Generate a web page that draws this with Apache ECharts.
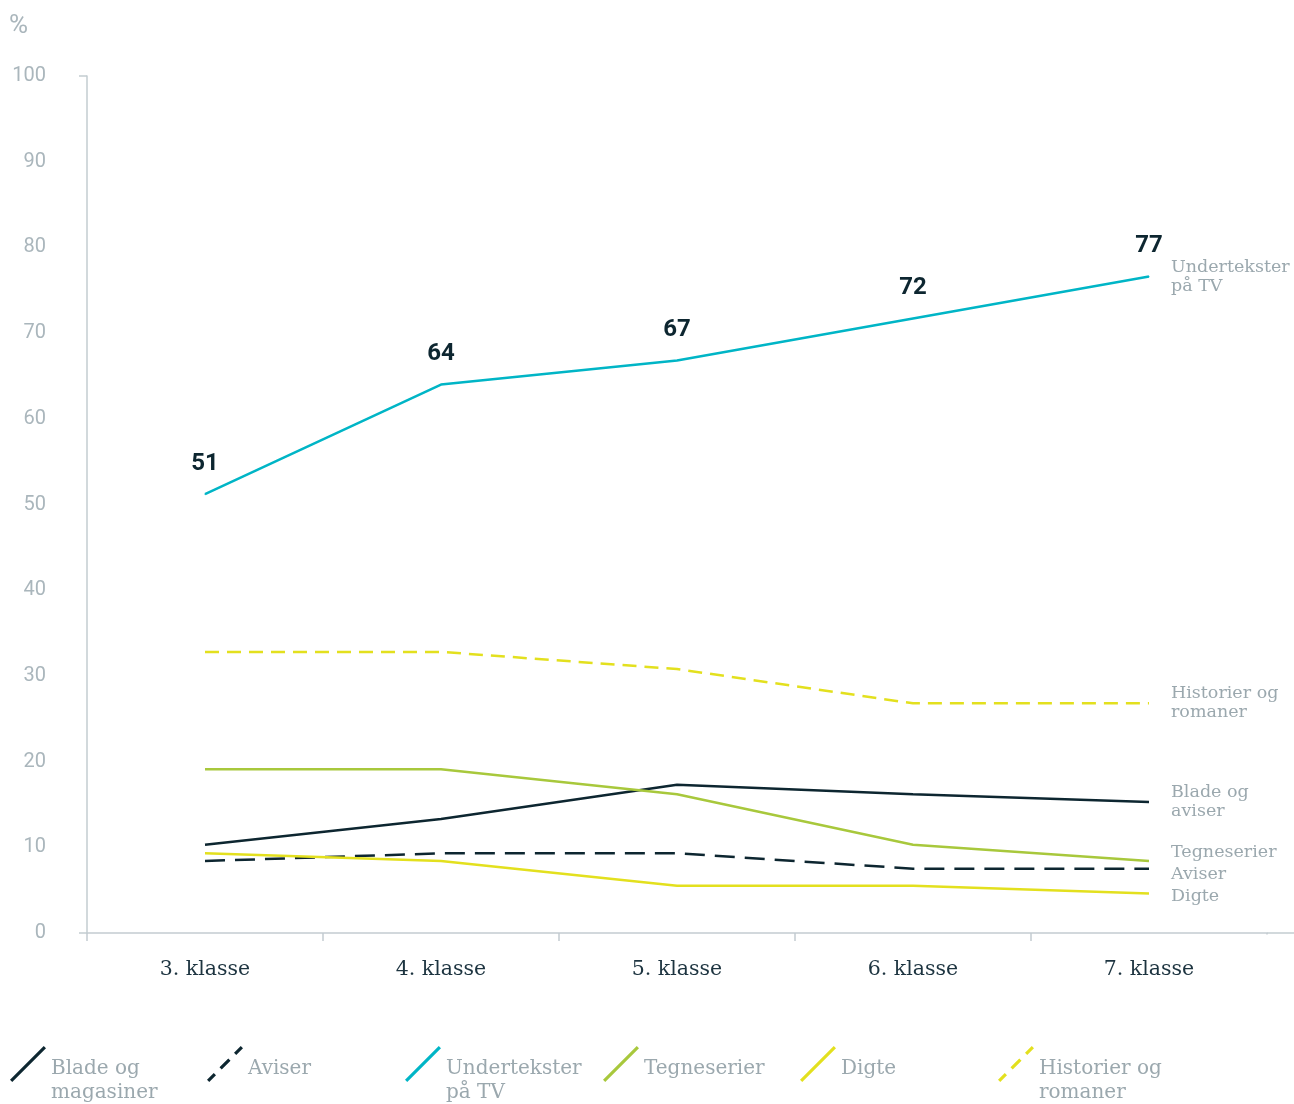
<!DOCTYPE html>
<html>
<head>
<meta charset="utf-8">
<script src="https://cdn.jsdelivr.net/npm/echarts@6/dist/echarts.min.js"></script>
<style>
  html, body { margin: 0; padding: 0; background: #fff; }
  #chart { width: 1294px; height: 1104px; }
</style>
</head>
<body>
<div id="chart"></div>
<script>
// 数据
var categories = ['3. klasse', '4. klasse', '5. klasse', '6. klasse', '7. klasse']
var yTicks = [0, 10, 20, 30, 40, 50, 60, 70, 80, 90, 100]
var bladeData = [10.3, 13.3, 17.3, 16.2, 15.3]
var aviserData = [8.4, 9.3, 9.3, 7.5, 7.5]
var undertekstData = [51.2, 64, 66.8, 71.7, 76.6]
var tegneData = [19.1, 19.1, 16.2, 10.3, 8.4]
var digteData = [9.3, 8.4, 5.5, 5.5, 4.6]
var historierData = [32.8, 32.8, 30.8, 26.8, 26.8]

var dark = '#0d2630'
var cyan = '#00b5c6'
var green = '#a8c83c'
var yellow = '#e3e01e'
var axisGrey = '#c3ccd1'
var textGrey = '#9ba8ae'
var serif = 'DejaVu Serif'

// 图例的斜线图标, boxH 用来把图标放到上方
function diagPath (segs, boxH) {
  var w = 1.2
  var p = ''
  segs.forEach(function (s) {
    var x0 = s[0] * 36, y0 = 36 - s[0] * 36
    var x1 = s[1] * 36, y1 = 36 - s[1] * 36
    p += 'M' + (x0 - w) + ',' + (y0 - w) + ' L' + (x1 - w) + ',' + (y1 - w) +
      ' L' + (x1 + w) + ',' + (y1 + w) + ' L' + (x0 + w) + ',' + (y0 + w) + ' Z '
  })
  p += 'M0,' + boxH + ' L0.05,' + boxH + ' L0.05,' + (boxH - 0.05) + ' Z'
  return 'path://' + p
}
var solidSegs = [[0, 1]]
var dashSegs = [[0, 0.2], [0.37, 0.63], [0.8, 1]]

var seriesDefs = [
  { name: 'Blade og\nmagasiner', end: 'Blade og\naviser', data: bladeData, color: dark, dash: 'solid', segs: solidSegs, offset: [0, 0], left: 10 },
  { name: 'Aviser', end: 'Aviser', data: aviserData, color: dark, dash: [20, 10], segs: dashSegs, offset: [0, 6], left: 207 },
  { name: 'Undertekster\npå TV', end: 'Undertekster\npå TV', data: undertekstData, color: cyan, dash: 'solid', segs: solidSegs, offset: [0, 0], left: 405 },
  { name: 'Tegneserier', end: 'Tegneserier', data: tegneData, color: green, dash: 'solid', segs: solidSegs, offset: [0, -9], left: 603 },
  { name: 'Digte', end: 'Digte', data: digteData, color: yellow, dash: 'solid', segs: solidSegs, offset: [0, 3], left: 800 },
  { name: 'Historier og\nromaner', end: 'Historier og\nromaner', data: historierData, color: yellow, dash: [14, 8], segs: dashSegs, offset: [0, 0], left: 998 }
]

var series = seriesDefs.map(function (d) {
  var s = {
    name: d.name,
    type: 'line',
    data: d.data,
    symbol: 'none',
    color: d.color,
    lineStyle: { color: d.color, width: 2.5, type: d.dash },
    endLabel: {
      show: true,
      distance: 22,
      offset: d.offset,
      formatter: d.end,
      color: textGrey,
      fontFamily: serif,
      fontSize: 17.5,
      lineHeight: 19
    }
  }
  if (d.color === cyan) {
    s.symbol = 'circle'
    s.symbolSize = 1
    s.showSymbol = true
    s.label = {
      show: true,
      position: 'top',
      distance: 18,
      formatter: function (p) { return Math.round(p.value) },
      color: dark,
      fontFamily: 'Roboto',
      fontWeight: 'bold',
      fontSize: 24
    }
  }
  return s
})

// 每个图例单独定位
var legends = seriesDefs.map(function (d) {
  var lines = d.name.split('\n').length
  var boxH = lines === 2 ? 72 : 48
  return {
    data: [{ name: d.name, icon: diagPath(d.segs, boxH) }],
    left: d.left - 5,
    top: 1041,
    itemWidth: 36,
    itemHeight: boxH,
    itemGap: 0,
    selectedMode: false,
    itemStyle: { color: d.color },
    textStyle: {
      color: textGrey,
      fontFamily: serif,
      fontSize: 20,
      lineHeight: 24
    }
  }
})

var myChart = echarts.init(document.getElementById('chart'))
var option = {
  animation: false,
  legend: legends,
  grid: { left: 87, top: 76, right: 27, bottom: 171 },
  xAxis: {
    type: 'category',
    data: categories,
    boundaryGap: true,
    axisLine: { lineStyle: { color: axisGrey, width: 1.5 } },
    axisTick: { show: true, length: 8, lineStyle: { color: axisGrey, width: 1.5 } },
    axisLabel: { color: '#1d3440', fontFamily: serif, fontSize: 20.5, margin: 26 }
  },
  yAxis: {
    type: 'value',
    min: yTicks[0],
    max: yTicks[yTicks.length - 1],
    interval: 10,
    axisLine: { show: true, lineStyle: { color: axisGrey, width: 1.5 } },
    axisTick: { show: false },
    splitLine: { show: false },
    axisLabel: { color: '#aab6bc', fontFamily: 'Roboto', fontSize: 20, margin: 41 }
  },
  // 单位文字 + 轴线延伸
  graphic: [
    { type: 'text', left: 9, top: 13, z: 100, style: { text: '%', fill: '#aab6bc', fontFamily: 'Roboto', fontSize: 26 } },
    { type: 'line', z: 100, shape: { x1: 1267, y1: 933, x2: 1294, y2: 933 }, style: { stroke: axisGrey, lineWidth: 1.5 } },
    { type: 'line', z: 100, shape: { x1: 1267, y1: 934.5, x2: 1267, y2: 943 }, style: { stroke: '#fff', lineWidth: 3 } },
    { type: 'line', z: 100, shape: { x1: 79, y1: 933, x2: 87, y2: 933 }, style: { stroke: axisGrey, lineWidth: 1.5 } },
    { type: 'line', z: 100, shape: { x1: 79, y1: 76, x2: 87, y2: 76 }, style: { stroke: axisGrey, lineWidth: 1.5 } }
  ],
  series: series
}
myChart.setOption(option)
window.addEventListener('resize', function () {
  myChart.resize()
})
</script>
</body>
</html>
